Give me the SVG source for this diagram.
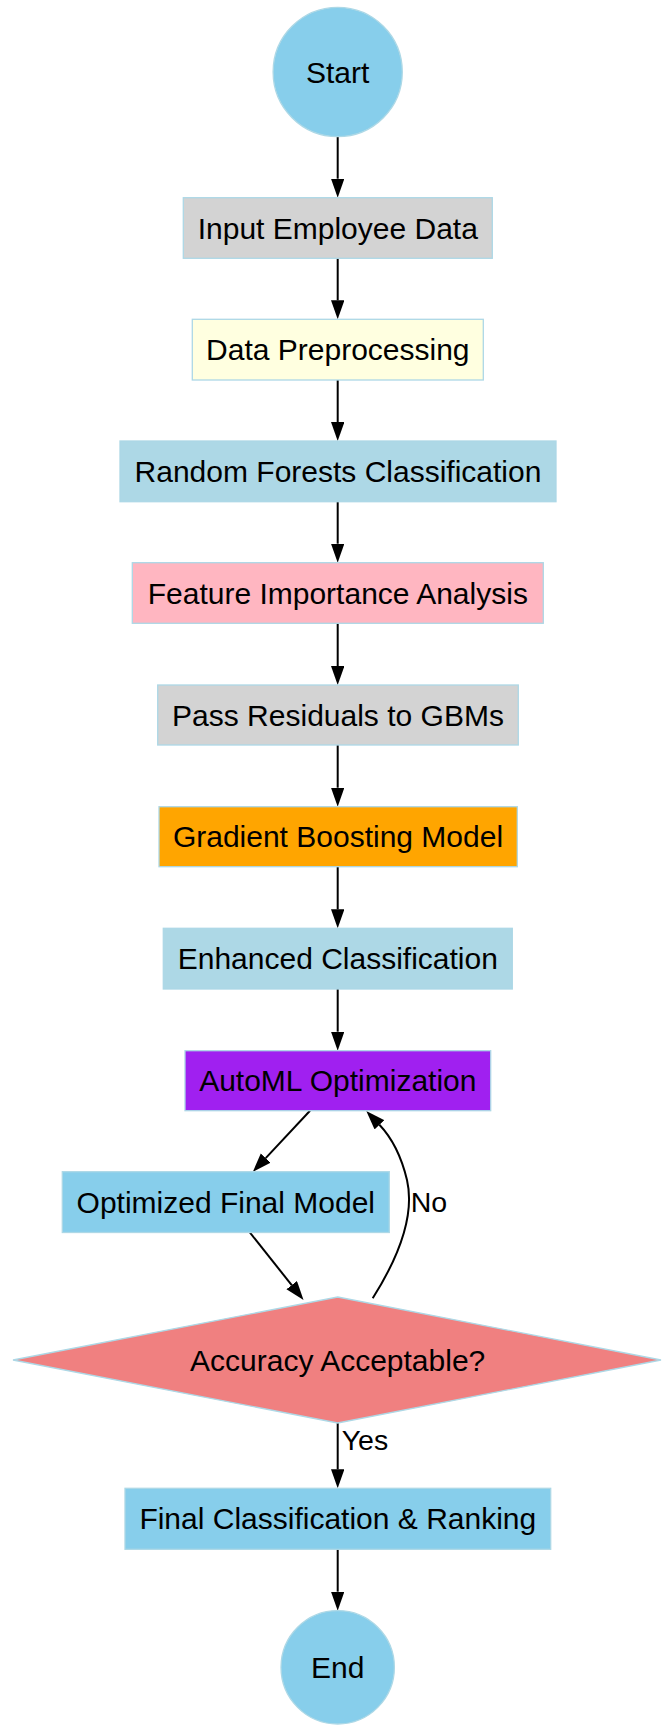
<svg xmlns="http://www.w3.org/2000/svg" width="664" height="1731" viewBox="0 0 664 1731">
<style>
.n{stroke:#ADD8E6;stroke-width:1.3}
.t{font-family:"Liberation Sans",Arial,sans-serif;font-size:30px;fill:#000;text-anchor:middle}
.l{font-family:"Liberation Sans",Arial,sans-serif;font-size:28.5px;fill:#000}
.e{fill:none;stroke:#000;stroke-width:2}
</style>
<defs>
<marker id="ah" markerUnits="userSpaceOnUse" markerWidth="20" markerHeight="14" refX="0" refY="6.7" orient="auto">
<path d="M0,0 L19,6.7 L0,13.4 z" fill="#000"/>
</marker>
</defs>
<rect width="664" height="1731" fill="#fff"/>
<g id="edges">
<path class="e" marker-end="url(#ah)" d="M337.7,136.7 L337.7,178.7"/>
<path class="e" marker-end="url(#ah)" d="M337.7,258.3 L337.7,300.3"/>
<path class="e" marker-end="url(#ah)" d="M337.7,380 L337.7,422"/>
<path class="e" marker-end="url(#ah)" d="M337.7,501.7 L337.7,543.7"/>
<path class="e" marker-end="url(#ah)" d="M337.7,623.3 L337.7,666"/>
<path class="e" marker-end="url(#ah)" d="M337.7,745 L337.7,787.7"/>
<path class="e" marker-end="url(#ah)" d="M337.7,866.7 L337.7,909.3"/>
<path class="e" marker-end="url(#ah)" d="M337.7,989 L337.7,1031.7"/>
<path class="e" marker-end="url(#ah)" d="M310,1110.7 L265.7,1158.1"/>
<path class="e" marker-end="url(#ah)" d="M250,1232.7 L291.7,1285.1"/>
<path class="e" marker-end="url(#ah)" d="M372.7,1298.3 C400,1255 415,1215 407,1180 C401,1155 392,1138 379.4,1124.8"/>
<path class="e" marker-end="url(#ah)" d="M337.7,1423 L337.7,1469.3"/>
<path class="e" marker-end="url(#ah)" d="M337.7,1549.3 L337.7,1591.7"/>
<text class="l" x="410.7" y="1211.7">No</text>
<text class="l" x="341.7" y="1449.5">Yes</text>
</g>
<g id="start"><circle class="n" cx="337.7" cy="72" r="64.6" fill="#87CEEB"/><text class="t" x="337.7" y="82.5">Start</text></g>
<g id="input"><rect class="n" x="183.3" y="197.7" width="309" height="60.6" fill="#D3D3D3"/><text class="t" x="337.8" y="238.5">Input Employee Data</text></g>
<g id="preprocess"><rect class="n" x="192.3" y="319.3" width="291" height="60.7" fill="#FFFFE0"/><text class="t" x="337.8" y="360.2">Data Preprocessing</text></g>
<g id="rf"><rect class="n" x="120" y="441" width="436" height="60.7" fill="#ADD8E6"/><text class="t" x="338" y="481.8">Random Forests Classification</text></g>
<g id="fi"><rect class="n" x="132.3" y="562.7" width="411" height="60.6" fill="#FFB6C1"/><text class="t" x="337.8" y="603.5">Feature Importance Analysis</text></g>
<g id="residuals"><rect class="n" x="157.7" y="685" width="360.6" height="60" fill="#D3D3D3"/><text class="t" x="338" y="725.5">Pass Residuals to GBMs</text></g>
<g id="gbm"><rect class="n" x="159" y="806.7" width="358.3" height="60" fill="#FFA500"/><text class="t" x="338" y="847.2">Gradient Boosting Model</text></g>
<g id="enhanced"><rect class="n" x="163.3" y="928.3" width="349" height="60.7" fill="#ADD8E6"/><text class="t" x="337.8" y="969.2">Enhanced Classification</text></g>
<g id="automl"><rect class="n" x="185" y="1050.7" width="305.7" height="60" fill="#A020F0"/><text class="t" x="337.8" y="1091.2">AutoML Optimization</text></g>
<g id="optimized"><rect class="n" x="62.3" y="1171.7" width="327" height="60.8" fill="#87CEEB"/><text class="t" x="225.8" y="1212.5">Optimized Final Model</text></g>
<g id="decision"><polygon class="n" points="337.7,1297 661,1360 337.7,1423 13,1360" fill="#F08080"/><text class="t" x="337.7" y="1371">Accuracy Acceptable?</text></g>
<g id="final"><rect class="n" x="125" y="1488.3" width="425.7" height="61" fill="#87CEEB"/><text class="t" x="337.8" y="1529.3">Final Classification &amp; Ranking</text></g>
<g id="end"><circle class="n" cx="337.7" cy="1667.3" r="56.7" fill="#87CEEB"/><text class="t" x="337.7" y="1677.8">End</text></g>
</svg>
